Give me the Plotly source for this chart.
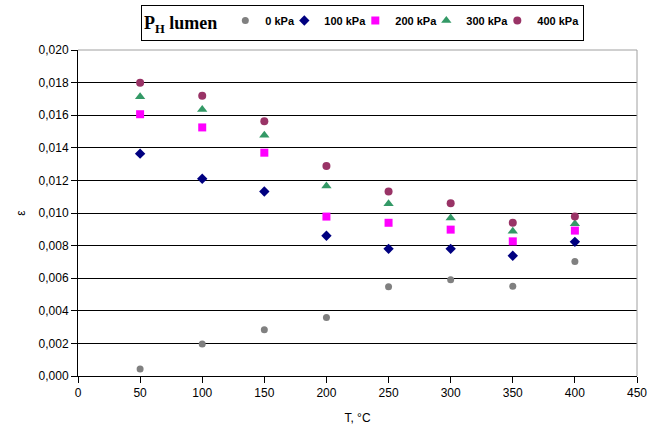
import plotly.graph_objects as go

temps = [50, 100, 150, 200, 250, 300, 350, 400]
series_names = ["0 kPa", "100 kPa", "200 kPa", "300 kPa", "400 kPa"]
eps_0 = [0.00043, 0.00197, 0.00283, 0.00359, 0.00548, 0.0059, 0.0055, 0.00703]
eps_100 = [0.01364, 0.0121, 0.01132, 0.0086, 0.0078, 0.0078, 0.00738, 0.00823]
eps_200 = [0.01606, 0.01525, 0.0137, 0.00978, 0.0094, 0.00898, 0.00826, 0.00892]
eps_300 = [0.01713, 0.01635, 0.01477, 0.01165, 0.01057, 0.0097, 0.00888, 0.00934]
eps_400 = [0.01799, 0.01719, 0.01563, 0.01288, 0.01132, 0.0106, 0.0094, 0.00978]
x_ticks = [0, 50, 100, 150, 200, 250, 300, 350, 400, 450]
y_ticks = [0.000, 0.002, 0.004, 0.006, 0.008, 0.010, 0.012, 0.014, 0.016, 0.018, 0.020]

values = [eps_0, eps_100, eps_200, eps_300, eps_400]
colors = ["#808080", "#000080", "#FF00FF", "#339966", "#993366"]
symbols = ["circle", "diamond", "square", "triangle-up", "circle"]
sizes = [7, 8, 8, 9, 8]
entry_w = [14, 26, 26, 26, 40]

fig = go.Figure()
for name, vals, c, s, sz, lw in zip(series_names, values, colors, symbols, sizes, entry_w):
    fig.add_trace(go.Scatter(x=temps, y=vals, mode="markers", name=name, legendwidth=lw,
                             marker=dict(color=c, symbol=s, size=sz, line=dict(width=0))))

fig.update_layout(
    width=649, height=430,
    margin=dict(l=78, r=12, t=50, b=54, autoexpand=False),
    paper_bgcolor="white", plot_bgcolor="white",
    separators=", ",
    font=dict(family="Arial, Liberation Sans", size=12, color="black"),
    showlegend=True,
    legend=dict(
        orientation="h", xref="container", yref="container",
        x=141 / 649, y=1 - 5 / 430, xanchor="left", yanchor="top",
        bordercolor="black", borderwidth=1, bgcolor="white",
        font=dict(family="Arial, Liberation Sans", size=11, color="black", weight="bold"),
        title=dict(text="P<sub>H</sub> lumen", side="left",
                   font=dict(family="Liberation Serif, Times New Roman", size=18, color="black", weight="bold")),
        itemwidth=30, tracegroupgap=0,
    ),
    xaxis=dict(range=[0, 450], tickvals=x_ticks, showgrid=False, zeroline=False,
               showline=True, linecolor="black", linewidth=1,
               ticks="outside", ticklen=6, tickcolor="black",
               title=dict(text="T, °C", font=dict(size=12), standoff=14)),
    yaxis=dict(range=[0, 0.020], tickvals=y_ticks, tickformat=".3f",
               showgrid=True, gridcolor="black", gridwidth=1, zeroline=False,
               showline=True, linecolor="black", linewidth=1,
               ticks="outside", ticklen=6, tickcolor="black",
               title=dict(text="ε", font=dict(size=12), standoff=10)),
    shapes=[
        dict(type="line", xref="paper", yref="paper", x0=0, x1=1, y0=1, y1=1,
             line=dict(color="#A0A0A0", width=1), layer="above"),
        dict(type="line", xref="paper", yref="paper", x0=1, x1=1, y0=0, y1=1,
             line=dict(color="#A0A0A0", width=1), layer="above"),
    ],
)

fig.write_html("out.html")
